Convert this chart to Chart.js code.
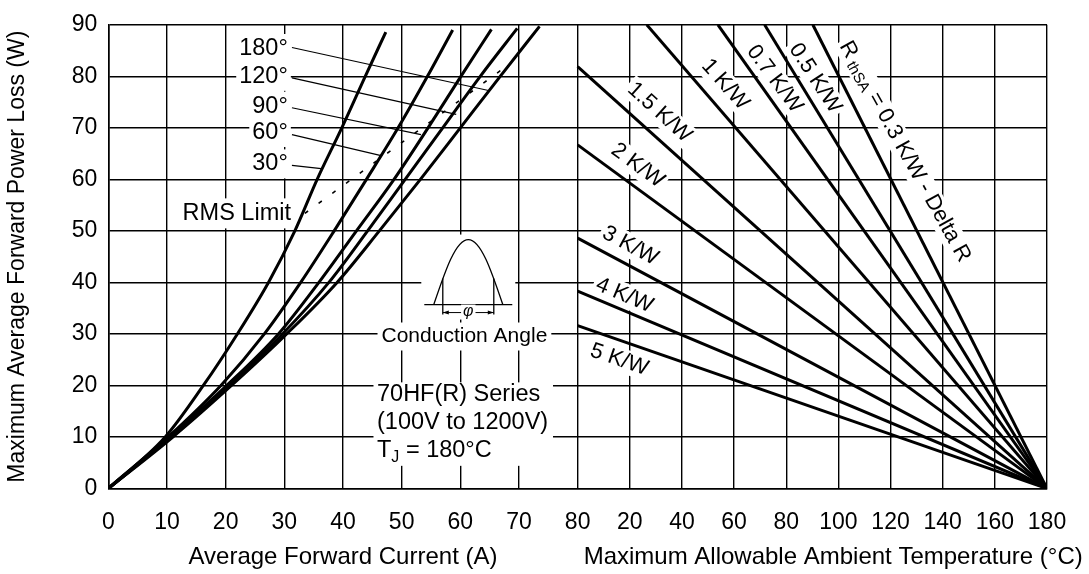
<!DOCTYPE html>
<html>
<head>
<meta charset="utf-8">
<title>70HF(R) Series - Forward Power Loss</title>
<script src="https://cdn.jsdelivr.net/npm/chart.js@4.4.1/dist/chart.umd.min.js"></script>
<style>
    html, body { margin: 0; padding: 0; background: #fff; }
    #wrap { position: relative; width: 1089px; height: 574px; }
</style>
</head>
<body>
<div id="wrap"><canvas id="loss-chart"></canvas></div>
<script>
(function() {
    'use strict';

    // ---- values ----

    // left panel: average forward current (A) vs. power loss (W), one curve per conduction angle
    var angleLabels = ['30°', '60°', '90°', '120°', '180°'];
    var lossLevels  = [0, 10, 20, 30, 40, 50, 60, 70, 80];
    var current30   = [0, 9.7, 16.2, 22.0, 27.3, 31.8, 35.6, 39.8, 43.8, 47.3];
    var current60   = [0, 10.2, 19.2, 26.6, 32.8, 38.5, 44.0, 49.4, 54.4, 58.7];
    var current90   = [0, 10.5, 20.2, 29.0, 35.9, 42.3, 48.7, 54.5, 60.1, 65.3];
    var current120  = [0, 10.8, 20.6, 29.7, 37.6, 44.2, 50.6, 57.0, 63.4, 69.7];
    var current180  = [0, 11.0, 21.0, 30.4, 39.0, 46.2, 53.2, 60.0, 66.8, 73.5];
    var curveTopLoss = [88.6, 89.0, 89.1, 89.3, 89.7];

    // RMS limit (dashed)
    var rmsCurrent = [33.5, 68.4];
    var rmsLoss    = [53.4, 82.4];

    // right panel: heatsink thermal resistance lines, ambient temp (°C) vs. power loss (W)
    var rthValues    = ['0.3', '0.5', '0.7', '1', '1.5', '2', '3', '4', '5'];
    var rthStartTemp = [90.2, 71.7, 53.8, 26.5, 0, 0, 0, 0, 0];
    var rthStartLoss = [90, 90, 90, 90, 81.9, 66.7, 48.6, 38.3, 31.6];
    var junctionTemp = 180;

    // axis ticks
    var currentTicks = [0, 10, 20, 30, 40, 50, 60, 70, 80];
    var tempTicks    = [20, 40, 60, 80, 100, 120, 140, 160, 180];

    var FONT = '"Liberation Sans", Arial, Helvetica, sans-serif';

    // both panels share one x axis: 0-80 A, then 0-180 °C squeezed into 80-160
    function tempToAxis(t) {
        return 80 + t * 80 / 180;
    }

    function curvePoints(currents, topLoss) {
        return currents.map(function(a, i) {
            return { x: a, y: i < lossLevels.length ? lossLevels[i] : topLoss };
        });
    }

    var datasets = [];
    [current30, current60, current90, current120, current180].forEach(function(cur, i) {
        datasets.push({
            label: angleLabels[i],
            data: curvePoints(cur, curveTopLoss[i]),
            borderColor: '#000',
            borderWidth: 3,
            pointRadius: 0,
            cubicInterpolationMode: 'monotone',
            fill: false
        });
    });

    datasets.push({
        label: 'RMS Limit',
        data: rmsCurrent.map(function(a, i) { return { x: a, y: rmsLoss[i] }; }),
        borderColor: '#000',
        borderWidth: 1.6,
        borderDash: [4, 13],
        pointRadius: 0,
        fill: false
    });

    rthValues.forEach(function(r, i) {
        datasets.push({
            label: r + ' K/W',
            data: [
                { x: tempToAxis(rthStartTemp[i]), y: rthStartLoss[i] },
                { x: tempToAxis(junctionTemp), y: 0 }
            ],
            borderColor: '#000',
            borderWidth: 3,
            pointRadius: 0,
            fill: false
        });
    });

    /**
     * Draw a run of text pieces (for subscripts), optionally rotated,
     * with a white box behind it that breaks the grid.
     */
    function richText(ctx, parts, x, y, opts) {
        opts = opts || {};
        var align = opts.align || 'center';
        var pad = opts.pad === undefined ? 3 : opts.pad;
        var widths = [], total = 0, maxSize = 0;
        parts.forEach(function(p) {
            ctx.font = (p.italic ? 'italic ' : '') + p.size + 'px ' + FONT;
            var w = ctx.measureText(p.t).width;
            widths.push(w);
            total += w;
            maxSize = Math.max(maxSize, p.size);
        });
        ctx.save();
        ctx.translate(x, y);
        if (opts.angle) {
            ctx.rotate(opts.angle * Math.PI / 180);
        }
        var start = align === 'left' ? 0 : (align === 'right' ? -total : -total / 2);
        if (opts.box !== false) {
            var bh = opts.boxHeight || maxSize * 1.15;
            ctx.fillStyle = '#fff';
            ctx.fillRect(start - pad, -bh / 2, total + pad * 2, bh);
        }
        ctx.fillStyle = '#000';
        ctx.textBaseline = 'middle';
        ctx.textAlign = 'left';
        var cx = start;
        parts.forEach(function(p, i) {
            ctx.font = (p.italic ? 'italic ' : '') + p.size + 'px ' + FONT;
            ctx.fillText(p.t, cx, p.dy || 0);
            cx += widths[i];
        });
        ctx.restore();
        return total;
    }

    function line(ctx, x1, y1, x2, y2, w) {
        ctx.beginPath();
        ctx.lineWidth = w;
        ctx.moveTo(x1, y1);
        ctx.lineTo(x2, y2);
        ctx.stroke();
    }

    /**
     * Conduction angle sketch: half sine with the conducting part marked
     */
    function drawPulse(ctx, cx, by) {
        var a = 34.5, h = 65, g = 25.5;
        ctx.save();
        ctx.fillStyle = '#fff';
        ctx.fillRect(cx - 47, by - h - 5, 94, h + 20);
        ctx.strokeStyle = '#000';
        ctx.fillStyle = '#000';
        line(ctx, cx - 44, by, cx + 44, by, 1.3);
        ctx.beginPath();
        ctx.lineWidth = 1.3;
        ctx.moveTo(cx - a, by);
        ctx.bezierCurveTo(cx - a + 0.3343 * a, by - 0.5251 * h, cx - a + 0.6366 * a, by - h, cx, by - h);
        ctx.bezierCurveTo(cx + a - 0.6366 * a, by - h, cx + a - 0.3343 * a, by - 0.5251 * h, cx + a, by);
        ctx.stroke();
        line(ctx, cx - g, by + 10, cx - g, by - 26, 1.3);
        line(ctx, cx + g, by + 10, cx + g, by - 26, 1.3);
        line(ctx, cx - g, by + 8, cx + g, by + 8, 1);
        // arrow heads
        ctx.beginPath();
        ctx.moveTo(cx - g, by + 8); ctx.lineTo(cx - g + 6, by + 6); ctx.lineTo(cx - g + 6, by + 10); ctx.closePath();
        ctx.moveTo(cx + g, by + 8); ctx.lineTo(cx + g - 6, by + 6); ctx.lineTo(cx + g - 6, by + 10); ctx.closePath();
        ctx.fill();
        ctx.restore();
        richText(ctx, [{ t: 'φ', size: 16, italic: true }], cx, by + 7, { pad: 2, boxHeight: 14 });
    }

    var notesPlugin = {
        id: 'datasheetNotes',
        beforeDatasetsDraw: function(chart) {
            var ctx = chart.ctx;
            var xs = chart.scales.x, ys = chart.scales.y;
            function px(a) { return xs.getPixelForValue(a); }
            function tx(t) { return xs.getPixelForValue(tempToAxis(t)); }
            function py(w) { return ys.getPixelForValue(w); }

            ctx.save();
            ctx.strokeStyle = '#000';

            // conduction angle labels with leaders
            var labelLoss  = [63.0, 69.1, 74.2, 80.0, 85.4];
            var leadStart  = [62.7, 68.7, 73.9, 79.7, 85.6];
            var leadEndA   = [36.3, 46.5, 53.3, 59.3, 65.0];
            var leadEndW   = [62.1, 64.6, 68.7, 72.6, 77.2];
            angleLabels.forEach(function(lbl, i) {
                richText(ctx, [{ t: lbl, size: 23.5 }], px(30.6), py(labelLoss[i]), { align: 'right', boxHeight: 29 });
            });
            angleLabels.forEach(function(lbl, i) {
                line(ctx, px(31.3), py(leadStart[i]), px(leadEndA[i]), py(leadEndW[i]), 1.2);
            });

            richText(ctx, [{ t: 'RMS Limit', size: 23.5 }], px(21.9), py(53.4), { pad: 5, boxHeight: 30 });

            drawPulse(ctx, px(61.36), py(35.7));
            richText(ctx, [{ t: 'Conduction Angle', size: 21 }], px(60.7), py(29.5), { pad: 4, boxHeight: 28 });

            // series notes block
            ctx.fillStyle = '#fff';
            ctx.fillRect(px(45.2), py(20.6), px(75.8) - px(45.2), py(4.4) - py(20.6));
            richText(ctx, [{ t: '70HF(R) Series', size: 23.5 }], px(45.8), py(18.3), { align: 'left', box: false });
            richText(ctx, [{ t: '(100V to 1200V)', size: 23.5 }], px(45.8), py(12.8), { align: 'left', box: false });
            richText(ctx, [
                { t: 'T', size: 23.5 },
                { t: 'J', size: 16, dy: 7 },
                { t: ' = 180°C', size: 23.5 }
            ], px(45.8), py(7.4), { align: 'left', box: false });

            // thermal resistance labels along their lines
            var rthLabelTemp  = [125.5, 91.1, 75.5, 56.6, 31.4, 23.0, 20.2, 17.9, 16.0];
            var rthLabelLoss  = [65.4, 79.6, 79.5, 78.4, 73.0, 62.7, 47.1, 37.5, 25.0];
            var rthLabelAngle = [61, 57, 53, 48, 42, 36.5, 28, 23, 19];
            rthValues.forEach(function(r, i) {
                var parts;
                if (i === 0) {
                    parts = [
                        { t: 'R', size: 22 },
                        { t: ' thSA', size: 15, dy: 5 },
                        { t: ' = ' + r + ' K/W - Delta R', size: 22 }
                    ];
                } else {
                    parts = [{ t: r + ' K/W', size: 22 }];
                }
                richText(ctx, parts, tx(rthLabelTemp[i]), py(rthLabelLoss[i]), { angle: rthLabelAngle[i], pad: 3, boxHeight: 24 });
            });

            ctx.restore();
        },
        afterDraw: function(chart) {
            var ctx = chart.ctx;
            var xs = chart.scales.x;
            var ty = 557;
            richText(ctx, [{ t: 'Average Forward Current (A)', size: 24 }], xs.getPixelForValue(40), ty, { box: false });
            richText(ctx, [{ t: 'Maximum Allowable Ambient Temperature (°C)', size: 24 }],
                xs.getPixelForValue(tempToAxis(98)), ty, { box: false });
        }
    };

    Chart.defaults.font.family = FONT;
    Chart.defaults.color = '#000';

    var axisTicks = currentTicks.concat(tempTicks.map(tempToAxis));

    new Chart(document.getElementById('loss-chart').getContext('2d'), {
        type: 'line',
        data: { datasets: datasets },
        options: {
            responsive: true,
            maintainAspectRatio: false,
            animation: false,
            parsing: false,
            layout: { padding: { top: 19.5, right: 42, left: 0, bottom: 0 } },
            plugins: {
                legend: { display: false },
                tooltip: { enabled: false }
            },
            scales: {
                x: {
                    type: 'linear',
                    min: 0,
                    max: 160,
                    afterBuildTicks: function(s) {
                        s.ticks = axisTicks.map(function(v) { return { value: v }; });
                    },
                    afterFit: function(s) { s.height = 85.5; },
                    ticks: {
                        autoSkip: false,
                        maxRotation: 0,
                        padding: 20,
                        font: { size: 23 },
                        callback: function(v) {
                            return v <= 80 ? v : Math.round((v - 80) * 180 / 80);
                        }
                    },
                    grid: { color: '#000', lineWidth: 1.4, drawTicks: false },
                    border: { color: '#000', width: 1.6 }
                },
                y: {
                    min: 0,
                    max: 90,
                    afterFit: function(s) { s.width = 108.3; },
                    ticks: { stepSize: 10, padding: 11, font: { size: 23 } },
                    grid: { color: '#000', lineWidth: 1.4, drawTicks: false },
                    border: { color: '#000', width: 1.6 },
                    title: {
                        display: true,
                        text: 'Maximum Average Forward Power Loss (W)',
                        font: { size: 23 },
                        padding: { top: 4, bottom: 0 }
                    }
                }
            }
        },
        plugins: [notesPlugin]
    });
})();
</script>
</body>
</html>
